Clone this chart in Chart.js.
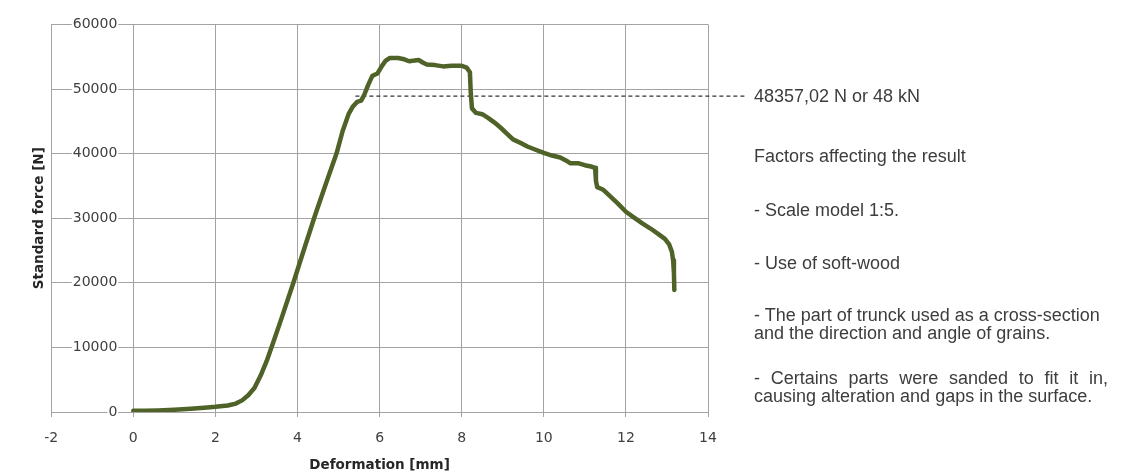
<!DOCTYPE html>
<html><head><meta charset="utf-8">
<script src="https://cdn.jsdelivr.net/npm/chart.js@4.4.1/dist/chart.umd.min.js"></script>
<style>
html,body{margin:0;padding:0;background:#fff;}
#wrap{position:relative;width:1122px;height:473px;overflow:hidden;}
#c{position:absolute;left:0;top:0;}
.note{position:absolute;left:754px;font-family:"Liberation Sans",Arial,sans-serif;font-size:18px;line-height:18px;color:#3d3d3d;white-space:nowrap;}
.just{white-space:normal;width:354px;text-align:justify;text-align-last:justify;}
</style></head><body>
<div id="wrap">
<canvas id="c" width="1122" height="473"></canvas>
<div class="note" style="top:87px">48357,02 N or 48 kN</div>
<div class="note" style="top:147px">Factors affecting the result</div>
<div class="note" style="top:201px">- Scale model 1:5.</div>
<div class="note" style="top:254px">- Use of soft-wood</div>
<div class="note" style="top:306px">- The part of trunck used as a cross-section<br>and the direction and angle of grains.</div>
<div class="note" style="top:369px"><div class="just">- Certains parts were sanded to fit it in,</div>causing alteration and gaps in the surface.</div>
</div>
<script>
// Deformation [mm]
const deformation = [0, 0.3, 0.6, 1.0, 1.4, 1.8, 2.0, 2.3, 2.5, 2.65, 2.8, 2.95, 3.1, 3.25, 3.41, 3.6, 3.9, 4.15, 4.43, 4.7, 4.95, 5.1, 5.25, 5.35, 5.45, 5.55, 5.62, 5.72, 5.82, 5.88, 5.95, 6.05, 6.15, 6.25, 6.45, 6.6, 6.72, 6.85, 6.95, 7.05, 7.15, 7.35, 7.55, 7.75, 8.0, 8.12, 8.2, 8.22, 8.25, 8.35, 8.5, 8.65, 8.8, 8.95, 9.1, 9.25, 9.45, 9.6, 9.8, 10.0, 10.2, 10.4, 10.55, 10.65, 10.85, 11.0, 11.15, 11.25, 11.27, 11.3, 11.45, 11.6, 11.8, 12.0, 12.2, 12.4, 12.6, 12.8, 12.95, 13.05, 13.12, 13.15, 13.17, 13.18];
// Standard force [N]
const force = [200, 200, 250, 350, 500, 700, 800, 1000, 1300, 1800, 2600, 3700, 5600, 7900, 10800, 14300, 20000, 25000, 30500, 35500, 40000, 43500, 46200, 47300, 48000, 48200, 49000, 50600, 52000, 52200, 52400, 53500, 54400, 54800, 54800, 54600, 54300, 54400, 54500, 54100, 53800, 53700, 53500, 53600, 53600, 53300, 52600, 49500, 47000, 46300, 46100, 45500, 44800, 44000, 43100, 42200, 41600, 41100, 40600, 40100, 39700, 39400, 38900, 38500, 38500, 38200, 38000, 37800, 35800, 34800, 34400, 33500, 32300, 31000, 30100, 29200, 28400, 27500, 26800, 26000, 24800, 23500, 21500, 18900];
// Reference line (48357,02 N)
const refLineX = [5.41, 14.9];
const refLineY = [48900, 48900];

const xTickLabels = [-2, 0, 2, 4, 6, 8, 10, 12, 14];
const yTickLabels = [0, 10000, 20000, 30000, 40000, 50000, 60000];

const curve = deformation.map((x, i) => ({x, y: force[i]}));
const ref = refLineX.map((x, i) => ({x, y: refLineY[i]}));

const gridColor = '#a3a3a3';
const tickFont = {family: 'DejaVu Sans', size: 14};
const titleFont = {family: 'DejaVu Sans', size: 13.5, weight: 'bold'};

new Chart(document.getElementById('c'), {
  type: 'line',
  data: {
    datasets: [
      {data: curve, borderColor: '#4f6228', borderWidth: 4.5, pointRadius: 0, tension: 0, borderJoinStyle: 'round', borderCapStyle: 'round', order: 0},
      {data: ref, borderColor: '#333333', borderWidth: 1.3, borderDash: [4, 3], pointRadius: 0, clip: false, order: 1}
    ]
  },
  options: {
    responsive: false,
    animation: false,
    layout: {padding: {left: 27, top: 23, right: 414, bottom: -1}},
    plugins: {legend: {display: false}, tooltip: {enabled: false}},
    scales: {
      x: {
        type: 'linear', position: 'bottom', min: xTickLabels[0], max: xTickLabels[xTickLabels.length - 1],
        afterBuildTicks: s => { s.ticks = xTickLabels.map(v => ({value: v})); },
        ticks: {color: '#404040', font: tickFont, padding: 13, callback: v => String(v)},
        grid: {color: gridColor, lineWidth: 1, tickLength: 5, drawTicks: true},
        border: {color: gridColor},
        title: {display: true, text: 'Deformation [mm]', color: '#262626', font: titleFont, padding: {top: -2, bottom: 0}}
      },
      y: {
        type: 'linear', position: {x: -0.39}, min: yTickLabels[0], max: yTickLabels[yTickLabels.length - 1],
        afterBuildTicks: s => { s.ticks = yTickLabels.map(v => ({value: v})); },
        ticks: {color: '#404040', font: tickFont, padding: 16, callback: v => String(v), showLabelBackdrop: true, backdropColor: '#ffffff', backdropPadding: {x: 1, y: 2}},
        grid: {color: gridColor, lineWidth: 1, drawTicks: false},
        border: {display: false}
      },
      yTitle: {
        type: 'linear', position: 'left', display: true,
        ticks: {display: false},
        grid: {display: false, drawTicks: false},
        border: {display: false},
        title: {display: true, text: 'Standard force [N]', color: '#262626', font: titleFont, padding: {top: 4, bottom: 4}}
      }
    }
  }
});
</script>
</body></html>
